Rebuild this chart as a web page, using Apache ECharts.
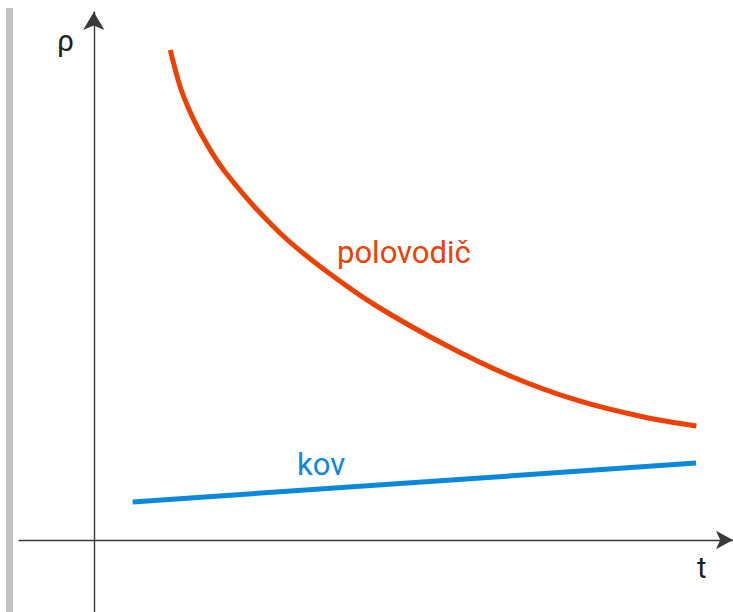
<!DOCTYPE html>
<html>
<head>
<meta charset="utf-8">
<script src="https://cdn.jsdelivr.net/npm/echarts@6/dist/echarts.min.js"></script>
<style>html,body{margin:0;padding:0;background:#fff}#c{width:733px;height:612px}</style>
</head>
<body>
<div id="c"></div>
<script>
// Semiconductor (polovodič) resistivity vs temperature: falling curve
var semiT   = [76.7, 82.7, 87.7, 94.3, 102, 111, 121, 132.7, 161, 194.3, 236, 282.7, 352.7, 419.3, 486, 552.7, 604.3];
var semiRho = [490, 466.7, 450, 433.3, 416.7, 400, 383.3, 366.7, 333.3, 300, 266.7, 234.5, 195, 163.3, 139.3, 122.7, 114];
// Metal (kov): slowly rising straight line
var metalT   = [39, 604];
var metalRho = [38, 77];
var axisNames = { x: 't', y: 'ρ' };
var seriesNames = { semi: 'polovodič', metal: 'kov' };

var RED = '#ee4000', BLUE = '#0a88dc', AXIS = '#3a3a3a';

function pairs(a, b) { return a.map(function (v, i) { return [v, b[i]]; }); }

var chart = echarts.init(document.getElementById('c'), null, { renderer: 'svg' });
chart.setOption({
  backgroundColor: '#fff',
  animation: false,
  grid: { left: 19, top: 12, width: 716, height: 600, containLabel: false },
  xAxis: {
    type: 'value', min: -75, max: 641,
    axisLine: { onZero: true, lineStyle: { color: AXIS, width: 1.4 },
      symbol: ['none', 'arrow'], symbolSize: [14, 17] },
    axisTick: { show: false }, axisLabel: { show: false }, splitLine: { show: false }
  },
  yAxis: {
    type: 'value', min: -72, max: 528,
    axisLine: { onZero: true, lineStyle: { color: AXIS, width: 1.4 },
      symbol: ['none', 'arrow'], symbolSize: [16, 18] },
    axisTick: { show: false }, axisLabel: { show: false }, splitLine: { show: false }
  },
  series: [
    { name: seriesNames.semi, type: 'line', smooth: 0.35, symbol: 'none',
      lineStyle: { color: RED, width: 5 }, data: pairs(semiT, semiRho) },
    { name: seriesNames.metal, type: 'line', symbol: 'none',
      lineStyle: { color: BLUE, width: 5 }, data: pairs(metalT, metalRho) }
  ],
  graphic: [
    { type: 'rect', shape: { x: 6, y: 8, width: 7, height: 604 }, style: { fill: '#c3c3c3' }, z: 0 },
    { type: 'text', x: 57, y: 40, style: { text: axisNames.y, fill: '#222', font: '30px Roboto', verticalAlign: 'middle' } },
    { type: 'text', x: 697, y: 568, style: { text: axisNames.x, fill: '#222', font: '29px Roboto', verticalAlign: 'middle' } },
    { type: 'text', x: 337, y: 252, style: { text: seriesNames.semi, fill: RED, font: '31px Roboto', verticalAlign: 'middle' } },
    { type: 'text', x: 297, y: 464, style: { text: seriesNames.metal, fill: BLUE, font: '31px Roboto', verticalAlign: 'middle' } }
  ]
});
</script>
</body>
</html>
